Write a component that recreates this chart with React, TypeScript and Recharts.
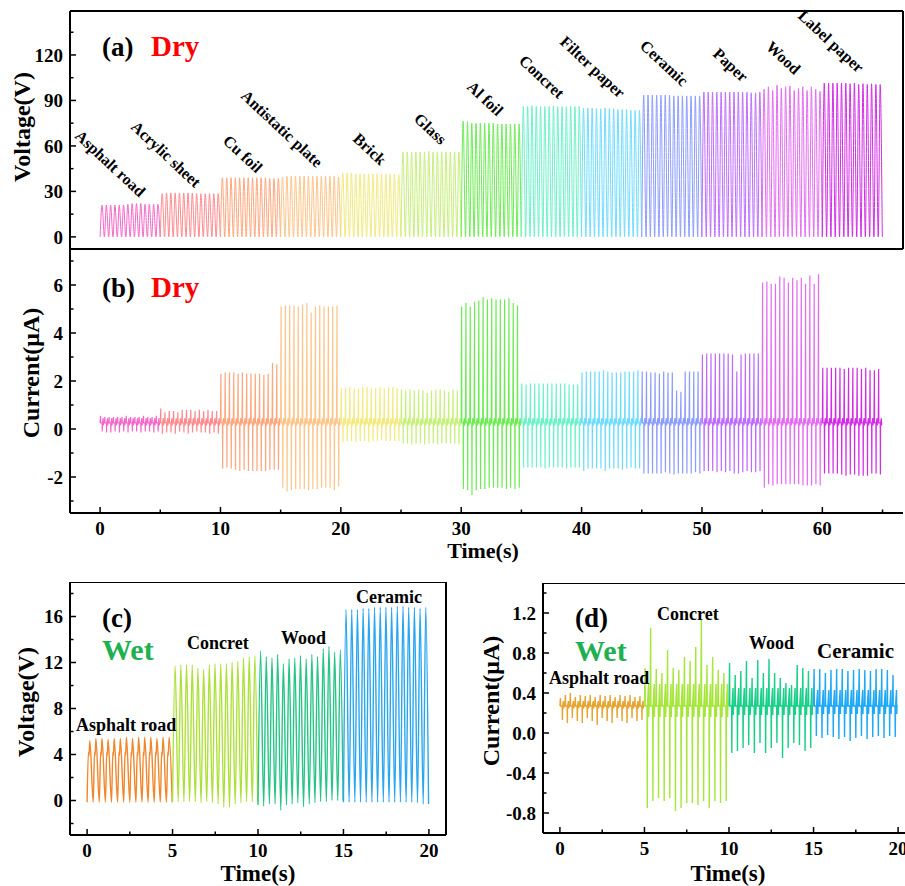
import React from 'react';
import { LineChart, Line, XAxis, YAxis, ReferenceLine } from 'recharts';

const FONT = '"Liberation Serif", "Times New Roman", Times, serif';
const SEG = 5; // every material is tapped for 5 s

// ---------- dry surfaces, panels (a) and (b) ----------
const dryMaterials = [
  'Asphalt road', 'Acrylic sheet', 'Cu foil', 'Antistatic plate', 'Brick', 'Glass', 'Al foil',
  'Concret', 'Filter paper', 'Ceramic', 'Paper', 'Wood', 'Label paper',
];
const dryColors = [
  '#F466C8', '#FF8A8E', '#FFA67C', '#FFC488', '#F2EA7E', '#C6F07A', '#6CEC52',
  '#6CF2C8', '#6EDCFF', '#8C9CFF', '#BE6CFF', '#E46CF2', '#D22CE6',
];
const dryVoltagePeaks = [
  [21, 21, 21, 21, 21, 21, 21.5, 22, 22, 22, 21.5, 21.5, 21.5, 21.5],
  [28.5, 29, 29, 29, 29, 29, 29, 29, 28.5, 28.5, 28.5, 28.5, 28.5, 28.5],
  [39, 39, 39, 39, 39, 39, 39, 39, 39, 39, 39, 38.5, 38.5, 38.5],
  [39.5, 40, 40, 40, 40, 40, 40, 40, 40, 40, 40, 40, 40, 39.5],
  [42, 42, 42, 41.5, 41.5, 41.5, 41.5, 41.5, 41.5, 41.5, 41.5, 41.5, 41.5, 41],
  [56, 56, 56, 56, 56, 56, 56.5, 56, 56, 56, 56, 56, 56, 56],
  [76.5, 76, 75, 75, 75, 75, 75, 75, 74.5, 74.5, 74.5, 74.5, 74.5, 74.5],
  [86, 86, 86.5, 86, 86, 86, 86, 86.5, 86, 86, 86, 86, 86, 86],
  [85, 85, 85, 84.5, 84.5, 85, 84.5, 84.5, 84, 84, 84, 83.5, 83.5, 83.5],
  [93.5, 93.5, 93.5, 93.5, 93.5, 93.5, 93.5, 93, 93, 93, 93, 93, 93, 93],
  [95.5, 95.5, 95.5, 95.5, 95.5, 95.5, 95.5, 95.5, 95.5, 95.5, 95.5, 95, 95, 95.5],
  [97.5, 99, 96.5, 100, 98, 99, 99.5, 96.5, 98, 99, 96.5, 99, 97.5, 96],
  [101.5, 101.5, 101.5, 101.5, 101.5, 101.5, 101, 101.5, 100.5, 101, 100.5, 101, 100.5, 100.5],
];
const dryCurrentPeaks = [
  [0.55, 0.5, 0.5, 0.5, 0.5, 0.5, 0.55, 0.5, 0.5, 0.5, 0.55, 0.5, 0.5, 0.55],
  [0.85, 0.7, 0.75, 0.75, 0.7, 0.8, 0.8, 0.8, 0.75, 0.8, 0.75, 0.8, 0.75, 0.75],
  [2.3, 2.35, 2.35, 2.35, 2.3, 2.35, 2.3, 2.3, 2.3, 2.3, 2.25, 2.3, 2.75, 2.7],
  [5.1, 5.15, 5.15, 5.15, 5.1, 5.2, 5.25, 4.85, 5.1, 5.15, 5.1, 5.1, 5.1, 5.15],
  [1.7, 1.7, 1.75, 1.7, 1.7, 1.75, 1.75, 1.7, 1.7, 1.75, 1.7, 1.75, 1.75, 1.7],
  [1.65, 1.6, 1.65, 1.6, 1.65, 1.6, 1.5, 1.6, 1.65, 1.65, 1.6, 1.55, 1.65, 1.6],
  [5.1, 5.25, 5.1, 5.3, 5.35, 5.5, 5.4, 5.45, 5.4, 5.4, 5.4, 5.45, 5.25, 5.15],
  [1.9, 1.85, 1.9, 1.9, 1.9, 1.9, 1.9, 1.9, 1.9, 1.9, 1.9, 1.85, 1.85, 1.85],
  [2.35, 2.4, 2.4, 2.4, 2.4, 2.45, 2.4, 2.35, 2.35, 2.35, 2.4, 2.4, 2.4, 2.45],
  [2.4, 2.4, 2.35, 2.35, 2.3, 2.4, 2.35, 2.35, 1.6, 1.55, 2.4, 2.4, 2.4, 2.4],
  [3.1, 3.15, 3.15, 3.15, 3.15, 3.15, 3.15, 3.1, 2.4, 3.1, 3.15, 3.15, 3.15, 3.15],
  [6.1, 6.15, 6.05, 6.05, 6.35, 6.3, 6.1, 6.3, 6.2, 6.3, 6.05, 6.4, 6.05, 6.45],
  [2.55, 2.55, 2.55, 2.55, 2.55, 2.5, 2.55, 2.55, 2.55, 2.5, 2.55, 2.45, 2.45, 2.5],
];
const dryCurrentDips = [
  [-0.1, -0.15, -0.15, -0.1, -0.15, -0.1, -0.15, -0.1, -0.1, -0.15, -0.1, -0.1, -0.15, -0.1],
  [-0.2, -0.15, -0.15, -0.2, -0.1, -0.15, -0.2, -0.15, -0.1, -0.15, -0.15, -0.2, -0.15, -0.2],
  [-1.65, -1.6, -1.65, -1.7, -1.75, -1.7, -1.75, -1.75, -1.75, -1.75, -1.75, -1.7, -1.7, -1.7],
  [-2.45, -2.6, -2.55, -2.5, -2.5, -2.5, -2.55, -2.5, -2.5, -2.45, -2.45, -2.45, -2.55, -2.4],
  [-0.55, -0.5, -0.5, -0.55, -0.5, -0.5, -0.55, -0.5, -0.5, -0.45, -0.5, -0.5, -0.5, -0.5],
  [-0.6, -0.6, -0.65, -0.6, -0.6, -0.65, -0.6, -0.6, -0.65, -0.6, -0.6, -0.6, -0.6, -0.65],
  [-2.5, -2.55, -2.75, -2.55, -2.5, -2.5, -2.45, -2.45, -2.45, -2.45, -2.5, -2.45, -2.5, -2.45],
  [-1.6, -1.6, -1.6, -1.6, -1.6, -1.65, -1.6, -1.6, -1.6, -1.6, -1.65, -1.6, -1.6, -1.6],
  [-1.75, -1.65, -1.65, -1.65, -1.65, -1.75, -1.65, -1.65, -1.65, -1.7, -1.65, -1.6, -1.65, -1.65],
  [-1.85, -1.85, -1.85, -1.85, -1.85, -1.8, -1.85, -1.9, -1.85, -1.85, -1.85, -1.85, -1.8, -1.85],
  [-1.75, -1.75, -1.75, -1.8, -1.75, -1.8, -1.75, -1.85, -1.85, -1.8, -1.75, -1.8, -1.8, -1.75],
  [-2.45, -2.3, -2.35, -2.3, -2.3, -2.3, -2.3, -2.3, -2.3, -2.35, -2.35, -2.35, -2.3, -2.35],
  [-1.85, -1.85, -1.85, -1.85, -1.9, -1.95, -1.9, -1.9, -1.95, -1.95, -1.95, -1.85, -1.85, -1.9],
];
const dryCurrentBase = 0.25;
const dryCurrentBump = 0.2;

// ---------- wet surfaces, panels (c) and (d) ----------
const wetMaterials = ['Asphalt road', 'Concret', 'Wood', 'Ceramic'];
const wetVoltageColors = ['#F2862A', '#AEE03A', '#26C486', '#2AA6F0'];
const wetCurrentColors = ['#E8A430', '#A6E63A', '#18D088', '#1EA8F5'];
const wetVoltagePeaks = [
  [5.2, 5.4, 5.4, 5.3, 5.4, 5.4, 5.5, 5.4, 5.5, 5.5, 5.5, 5.4, 5.5, 5.5],
  [11.7, 11.8, 11.8, 11.8, 11.5, 11.4, 11.8, 11.9, 11.9, 11.9, 12.0, 12.1, 12.4, 12.5, 12.6],
  [13.0, 12.5, 12.4, 12.7, 11.9, 12.3, 12.4, 12.6, 12.3, 12.7, 12.5, 13.2, 13.4, 12.9, 13.1],
  [16.6, 16.6, 16.6, 16.7, 16.7, 16.8, 16.8, 16.8, 16.8, 16.9, 16.9, 16.8, 16.8, 16.7, 16.8],
];
const wetVoltageValleys = [
  [-0.15, -0.15, -0.15, -0.15, -0.15, -0.15, -0.15, -0.15, -0.15, -0.15, -0.15, -0.15, -0.15, -0.15],
  [-0.1, -0.1, -0.1, -0.1, -0.1, -0.2, -0.1, -0.2, -0.3, -0.6, -0.6, -0.3, -0.2, -0.1, -0.1],
  [-0.4, -0.5, -0.3, -0.3, -0.85, -0.4, -0.3, -0.2, -0.55, -0.3, -0.2, -0.1, -0.1, 0, 0],
  [-0.15, -0.15, -0.15, -0.15, -0.15, -0.15, -0.15, -0.15, -0.15, -0.15, -0.15, -0.15, -0.15, -0.2, -0.3],
];
const wetAsphaltShoulder = 4.2;
const wetCurrentPeaks = [
  [0.35, 0.38, 0.4, 0.36, 0.38, 0.37, 0.38, 0.36, 0.38, 0.37, 0.38, 0.36, 0.38, 0.37, 0.38, 0.36, 0.37],
  [0.65, 1.05, 0.64, 0.6, 0.83, 0.65, 0.63, 0.76, 0.72, 0.86, 1.14, 0.68, 0.76, 0.63, 0.6],
  [0.7, 0.58, 0.62, 0.72, 0.55, 0.73, 0.6, 0.74, 0.6, 0.55, 0.5, 0.48, 0.68, 0.65, 0.62],
  [0.64, 0.64, 0.6, 0.63, 0.64, 0.64, 0.62, 0.63, 0.64, 0.63, 0.62, 0.64, 0.64, 0.63, 0.58],
];
const wetCurrentDips = [
  [0.13, 0.1, 0.15, 0.12, 0.1, 0.15, 0.12, 0.08, 0.15, 0.12, 0.1, 0.15, 0.12, 0.1, 0.15, 0.12, 0.13],
  [-0.75, -0.68, -0.65, -0.68, -0.65, -0.78, -0.75, -0.7, -0.7, -0.72, -0.68, -0.75, -0.68, -0.7, -0.68],
  [-0.2, -0.18, -0.15, -0.12, -0.2, -0.1, -0.2, -0.15, -0.1, -0.25, -0.15, -0.1, -0.12, -0.18, -0.15],
  [-0.03, -0.05, -0.02, -0.04, -0.06, -0.04, -0.08, -0.05, -0.03, -0.06, -0.04, -0.03, -0.05, -0.03, -0.04],
];
const wetCurrentBumps = [0.05, 0.22, 0.18, 0.16];
const wetCurrentBase = 0.27;

// ---------- axis ticks ----------
const timeDryMajor = [0, 10, 20, 30, 40, 50, 60];
const timeDryMinor = [5, 15, 25, 35, 45, 55, 65];
const voltDryMajor = [0, 30, 60, 90, 120];
const voltDryMinor = [15, 45, 75, 105, 135];
const currDryMajor = [-2, 0, 2, 4, 6];
const currDryMinor = [-3, -1, 1, 3, 5, 7];
const timeWetMajor = [0, 5, 10, 15, 20];
const timeWetMinor = [2.5, 7.5, 12.5, 17.5];
const voltWetMajor = [0, 4, 8, 12, 16];
const voltWetMinor = [-2, 2, 6, 10, 14, 18];
const currWetMajor = [-0.8, -0.4, 0, 0.4, 0.8, 1.2];
const currWetMinor = [-0.6, -0.2, 0.2, 0.6, 1.0, 1.4];

type Pt = { t: number; v: number };

// one rise and fall per tap
function voltageTrace(seg: number, peaks: number[], valleys: number[], shoulder?: number): Pt[] {
  const p = SEG / peaks.length;
  const t0 = seg * SEG;
  const pts: Pt[] = [];
  peaks.forEach((pk, i) => {
    const t = t0 + i * p;
    pts.push({ t, v: valleys[i] });
    if (shoulder !== undefined) {
      pts.push({ t: t + 0.22 * p, v: shoulder }, { t: t + 0.3 * p, v: shoulder - 0.3 });
    }
    pts.push({ t: t + 0.45 * p, v: pk });
  });
  pts.push({ t: t0 + SEG - 0.02, v: valleys[valleys.length - 1] });
  return pts;
}

// positive spike on press, negative spike on release, small ripple in between
function currentTrace(seg: number, peaks: number[], dips: number[], base: number, bump: number): Pt[] {
  const p = SEG / peaks.length;
  const t0 = seg * SEG;
  const pts: Pt[] = [];
  peaks.forEach((pk, i) => {
    const t = t0 + i * p;
    pts.push(
      { t, v: base },
      { t: t + 0.1 * p, v: pk },
      { t: t + 0.14 * p, v: base },
      { t: t + 0.46 * p, v: base },
      { t: t + 0.5 * p, v: dips[i] },
      { t: t + 0.54 * p, v: base },
      { t: t + 0.72 * p, v: base + bump },
      { t: t + 0.76 * p, v: base - bump * 0.5 },
      { t: t + 0.8 * p, v: base },
    );
  });
  pts.push({ t: t0 + SEG - 0.02, v: base });
  return pts;
}

const dryVoltage = dryVoltagePeaks.map((pk, i) => voltageTrace(i, pk, pk.map(() => 0)));
const dryCurrent = dryCurrentPeaks.map((pk, i) =>
  currentTrace(i, pk, dryCurrentDips[i], dryCurrentBase, dryCurrentBump));
const wetVoltage = wetVoltagePeaks.map((pk, i) =>
  voltageTrace(i, pk, wetVoltageValleys[i], i === 0 ? wetAsphaltShoulder : undefined));
const wetCurrent = wetCurrentPeaks.map((pk, i) =>
  currentTrace(i, pk, wetCurrentDips[i], wetCurrentBase, wetCurrentBumps[i]));

const isIn = (list: number[], v: number) => list.some((m) => Math.abs(m - v) < 1e-6);

const tickText = { fontFamily: FONT, fontWeight: 'bold' as const, fontSize: 19, fill: '#000' };

const xTick = (majors: number[], fmt: (v: number) => string) => (props: any) => {
  const { x, y, payload } = props;
  const major = isIn(majors, payload.value);
  return (
    <g>
      <line x1={x} x2={x} y1={y} y2={y - (major ? 6 : 3.5)} stroke="#000" strokeWidth={1.5} />
      {major && (
        <text x={x} y={y + 22} textAnchor="middle" {...tickText}>
          {fmt(payload.value)}
        </text>
      )}
    </g>
  );
};

const yTick = (majors: number[], fmt: (v: number) => string) => (props: any) => {
  const { x, y, payload } = props;
  const major = isIn(majors, payload.value);
  return (
    <g>
      <line x1={x} x2={x + (major ? 6 : 3.5)} y1={y} y2={y} stroke="#000" strokeWidth={1.5} />
      {major && (
        <text x={x - 7} y={y} dy="0.35em" textAnchor="end" {...tickText}>
          {fmt(payload.value)}
        </text>
      )}
    </g>
  );
};

const axisLine = { stroke: '#000', strokeWidth: 2 };
const int = (v: number) => String(v);
const one = (v: number) => v.toFixed(1);

const bold = { fontFamily: FONT, fontWeight: 'bold' as const, fill: '#000' };

function DryLabels() {
  // rotated material names above each block in (a)
  const spots: [number, number][] = [
    [74, 137], [130, 128], [222, 142], [240, 97], [352, 140], [413, 120], [466, 88],
    [518, 62], [559, 43], [639, 47], [712, 55], [765, 48], [797, 17],
  ];
  return (
    <>
      {dryMaterials.map((m, i) => (
        <text key={m} x={spots[i][0]} y={spots[i][1]} fontSize={16} {...bold}
          transform={`rotate(43 ${spots[i][0]} ${spots[i][1]})`}>
          {m}
        </text>
      ))}
    </>
  );
}

export default function App() {
  return (
    <div style={{ position: 'absolute', left: 0, top: 0, width: 905, height: 886, overflow: 'hidden', background: '#fff' }}>
      {/* (a) dry voltage */}
      <div style={{ position: 'absolute', left: 0, top: 0 }}>
        <LineChart width={905} height={252} margin={{ top: 11, right: 2, left: 0, bottom: 3 }}>
          <XAxis type="number" dataKey="t" domain={[-2.5, 66.7]} allowDataOverflow hide />
          <YAxis type="number" domain={[-8, 149]} allowDataOverflow width={70} ticks={[...voltDryMajor, ...voltDryMinor]}
            interval={0} tickSize={0} tickMargin={0} tickLine={false} axisLine={axisLine} tick={yTick(voltDryMajor, int)} />
          <ReferenceLine y={149} stroke="#000" strokeWidth={2} ifOverflow="visible" />
          <ReferenceLine y={-8} stroke="#000" strokeWidth={2} ifOverflow="visible" />
          <ReferenceLine x={66.7} stroke="#000" strokeWidth={2} ifOverflow="visible" />
          {dryVoltage.map((d, i) => (
            <Line key={dryMaterials[i]} data={d} dataKey="v" type="monotone" stroke={dryColors[i]}
              strokeWidth={1} dot={false} isAnimationActive={false} />
          ))}
        </LineChart>
      </div>

      {/* (b) dry current */}
      <div style={{ position: 'absolute', left: 0, top: 249 }}>
        <LineChart width={905} height={300} margin={{ top: 0, right: 2, left: 0, bottom: 0 }}>
          <XAxis type="number" dataKey="t" domain={[-2.5, 66.7]} allowDataOverflow height={36}
            ticks={[...timeDryMajor, ...timeDryMinor]} interval={0} tickSize={0} tickMargin={0} tickLine={false}
            axisLine={axisLine} tick={xTick(timeDryMajor, int)} />
          <YAxis type="number" domain={[-3.5, 7.5]} allowDataOverflow width={70} ticks={[...currDryMajor, ...currDryMinor]}
            interval={0} tickSize={0} tickMargin={0} tickLine={false} axisLine={axisLine} tick={yTick(currDryMajor, int)} />
          {dryCurrent.map((d, i) => (
            <Line key={dryMaterials[i]} data={d} dataKey="v" type="linear" stroke={dryColors[i]}
              strokeWidth={1.2} dot={false} isAnimationActive={false} />
          ))}
        </LineChart>
      </div>

      {/* (c) wet voltage */}
      <div style={{ position: 'absolute', left: 0, top: 582 }}>
        <LineChart width={448} height={290} margin={{ top: 0, right: 2, left: 0, bottom: 0 }}>
          <XAxis type="number" dataKey="t" domain={[-1, 21]} allowDataOverflow height={37}
            ticks={[...timeWetMajor, ...timeWetMinor]} interval={0} tickSize={0} tickMargin={0} tickLine={false}
            axisLine={axisLine} tick={xTick(timeWetMajor, int)} />
          <YAxis type="number" domain={[-3, 19]} allowDataOverflow width={70} ticks={[...voltWetMajor, ...voltWetMinor]}
            interval={0} tickSize={0} tickMargin={0} tickLine={false} axisLine={axisLine} tick={yTick(voltWetMajor, int)} />
          <ReferenceLine y={19} stroke="#000" strokeWidth={2} ifOverflow="visible" />
          <ReferenceLine x={21} stroke="#000" strokeWidth={2} ifOverflow="visible" />
          {wetVoltage.map((d, i) => (
            <Line key={wetMaterials[i]} data={d} dataKey="v" type="monotone" stroke={wetVoltageColors[i]}
              strokeWidth={1.4} dot={false} isAnimationActive={false} />
          ))}
        </LineChart>
      </div>

      {/* (d) wet current */}
      <div style={{ position: 'absolute', left: 460, top: 583 }}>
        <LineChart width={460} height={290} margin={{ top: 0, right: 5, left: 0, bottom: 0 }}>
          <XAxis type="number" dataKey="t" domain={[-1, 21]} allowDataOverflow height={40}
            ticks={[...timeWetMajor, ...timeWetMinor]} interval={0} tickSize={0} tickMargin={0} tickLine={false}
            axisLine={axisLine} tick={xTick(timeWetMajor, int)} />
          <YAxis type="number" domain={[-1, 1.5]} allowDataOverflow width={83} ticks={[...currWetMajor, ...currWetMinor]}
            interval={0} tickSize={0} tickMargin={0} tickLine={false} axisLine={axisLine} tick={yTick(currWetMajor, one)} />
          <ReferenceLine y={1.5} stroke="#000" strokeWidth={2} ifOverflow="visible" />
          {wetCurrent.map((d, i) => (
            <Line key={wetMaterials[i]} data={d} dataKey="v" type="linear" stroke={wetCurrentColors[i]}
              strokeWidth={1.4} dot={false} isAnimationActive={false} />
          ))}
        </LineChart>
      </div>

      {/* titles and annotations */}
      <svg width={905} height={886} style={{ position: 'absolute', left: 0, top: 0, pointerEvents: 'none' }}>
        <text x={30} y={127} fontSize={24} textAnchor="middle" transform="rotate(-90 30 127)" {...bold}>Voltage(V)</text>
        <text x={39} y={373} fontSize={24} textAnchor="middle" transform="rotate(-90 39 373)" {...bold}>Current(μA)</text>
        <text x={483} y={558} fontSize={22} textAnchor="middle" {...bold}>Time(s)</text>
        <text x={34} y={702} fontSize={24} textAnchor="middle" transform="rotate(-90 34 702)" {...bold}>Voltage(V)</text>
        <text x={258} y={881} fontSize={23} textAnchor="middle" {...bold}>Time(s)</text>
        <text x={499} y={701} fontSize={24} textAnchor="middle" transform="rotate(-90 499 701)" {...bold}>Current(μA)</text>
        <text x={728} y={881} fontSize={23} textAnchor="middle" {...bold}>Time(s)</text>

        <text x={102} y={56} fontSize={27} {...bold}>(a)</text>
        <text x={151} y={56} fontSize={29} {...bold} fill="#FF0000">Dry</text>
        <text x={102} y={297} fontSize={27} {...bold}>(b)</text>
        <text x={151} y={297} fontSize={29} {...bold} fill="#FF0000">Dry</text>
        <text x={102} y={627} fontSize={27} {...bold}>(c)</text>
        <text x={102} y={660} fontSize={30} {...bold} fill="#20B050">Wet</text>
        <text x={575} y={627} fontSize={27} {...bold}>(d)</text>
        <text x={575} y={661} fontSize={30} {...bold} fill="#20B050">Wet</text>

        <DryLabels />

        <text x={76} y={731} fontSize={18} {...bold}>Asphalt road</text>
        <text x={187} y={649} fontSize={18} {...bold}>Concret</text>
        <text x={281} y={644} fontSize={18} {...bold}>Wood</text>
        <text x={356} y={603} fontSize={18} {...bold}>Ceramic</text>

        <text x={549} y={684} fontSize={18} {...bold}>Asphalt road</text>
        <text x={657} y={620} fontSize={18} {...bold}>Concret</text>
        <text x={749} y={649} fontSize={18} {...bold}>Wood</text>
        <text x={817} y={658} fontSize={21} {...bold}>Ceramic</text>
      </svg>
    </div>
  );
}
